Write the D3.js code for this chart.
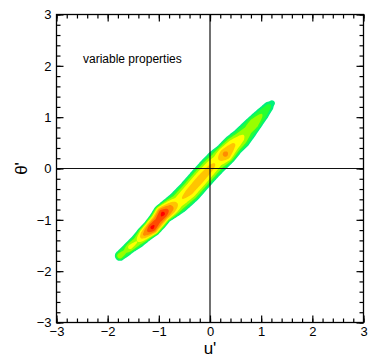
<!DOCTYPE html>
<html>
<head>
<script src="https://d3js.org/d3.v7.min.js"></script>
<style>
  body { margin: 0; background: #fff; }
  text { font-family: 'Liberation Sans', Arial, sans-serif; fill: #000; }
</style>
</head>
<body>
<script>
// ridge of the joint pdf (u', theta', outer half width, peak level)
var ridgeU     = [-1.76, -1.66, -1.56, -1.42, -1.28, -1.13, -1.02, -0.92, -0.78, -0.62, -0.40, -0.18, 0.02, 0.15, 0.30, 0.45, 0.60, 0.74, 0.86, 1.02, 1.14, 1.21];
var ridgeT     = [-1.70, -1.62, -1.53, -1.42, -1.28, -1.15, -1.02, -0.88, -0.78, -0.66, -0.45, -0.20, 0.02, 0.15, 0.28, 0.45, 0.58, 0.74, 0.88, 1.06, 1.20, 1.27];
var ridgeWidth = [0.10, 0.11, 0.12, 0.14, 0.16, 0.18, 0.19, 0.20, 0.21, 0.22, 0.23, 0.23, 0.23, 0.23, 0.22, 0.21, 0.20, 0.18, 0.16, 0.13, 0.10, 0.06];
var ridgePeak  = [3.8, 3.2, 4.4, 4.0, 6.2, 8.3, 7.5, 8.3, 6.6, 4.8, 5.4, 5.5, 5.3, 4.8, 6.3, 5.2, 4.4, 3.5, 4.0, 3.0, 2.4, 1.8];

var levels = [1, 2, 3, 4, 5, 6, 7, 8];
var levelColors = ['#00f07c', '#28ff30', '#98ff00', '#ffff00', '#ffc400', '#ff8c00', '#ff4a00', '#ff0000'];

var tickValues = [-3, -2, -1, 0, 1, 2, 3];
var minorTicks = d3.range(-30, 31, 2).map(function(d) { return d / 10; });

var W = 371, H = 358;
var x = d3.scaleLinear().domain([-3, 3]).range([56.5, 363.5]);
var y = d3.scaleLinear().domain([-3, 3]).range([322.5, 14.5]);

var svg = d3.select('body').append('svg')
    .attr('width', W)
    .attr('height', H);

// density grid built from the ridge
var n = 300, step = 6 / n;
var values = new Array(n * n);
for (var j = 0; j < n; j++) {
    var tv = -3 + (j + 0.5) * step;
    for (var i = 0; i < n; i++) {
        var uv = -3 + (i + 0.5) * step;
        var best = -10;
        for (var k = 0; k < ridgeU.length - 1; k++) {
            var ax = ridgeU[k], ay = ridgeT[k];
            var bx = ridgeU[k + 1], by = ridgeT[k + 1];
            var dx = bx - ax, dy = by - ay;
            var t = ((uv - ax) * dx + (tv - ay) * dy) / (dx * dx + dy * dy);
            t = Math.max(0, Math.min(1, t));
            var px = ax + t * dx - uv, py = ay + t * dy - tv;
            var d = Math.sqrt(px * px + py * py);
            var w = ridgeWidth[k] + t * (ridgeWidth[k + 1] - ridgeWidth[k]);
            var pk = ridgePeak[k] + t * (ridgePeak[k + 1] - ridgePeak[k]);
            var f = pk - (pk - 1) * (d / w) * (d / w);
            if (f > best) best = f;
        }
        values[j * n + i] = best;
    }
}

var contours = d3.contours().size([n, n]).thresholds(levels)(values);

var path = d3.geoPath(d3.geoTransform({
    point: function(gx, gy) {
        this.stream.point(x(-3 + gx * step), y(-3 + gy * step));
    }
}));

svg.append('g')
    .selectAll('path')
    .data(contours)
    .join('path')
    .attr('d', path)
    .attr('fill', function(d, i) { return levelColors[i]; })
    .attr('stroke', 'none');

// zero lines
svg.append('line')
    .attr('x1', x(0)).attr('x2', x(0))
    .attr('y1', y(3)).attr('y2', y(-3))
    .attr('stroke', '#111').attr('stroke-width', 1.2);
svg.append('line')
    .attr('x1', x(-3)).attr('x2', x(3))
    .attr('y1', y(0)).attr('y2', y(0))
    .attr('stroke', '#111').attr('stroke-width', 1.2);

// axes, ticks inward on all sides
function styleAxis(g) {
    g.select('.domain').remove();
    g.selectAll('line').attr('stroke', '#000').attr('stroke-width', 1.2);
    g.attr('font-family', null).attr('font-size', 13);
}

svg.append('g').attr('transform', 'translate(0,' + y(-3) + ')')
    .call(d3.axisBottom(x).tickValues(minorTicks).tickSize(-4).tickFormat(''))
    .call(styleAxis);
svg.append('g').attr('transform', 'translate(0,' + y(-3) + ')')
    .call(d3.axisBottom(x).tickValues(tickValues).tickSize(-7).tickPadding(4).tickFormat(d3.format('d')))
    .call(styleAxis);
svg.append('g').attr('transform', 'translate(0,' + y(3) + ')')
    .call(d3.axisTop(x).tickValues(minorTicks).tickSize(-4).tickFormat(''))
    .call(styleAxis);
svg.append('g').attr('transform', 'translate(0,' + y(3) + ')')
    .call(d3.axisTop(x).tickValues(tickValues).tickSize(-7).tickFormat(''))
    .call(styleAxis);
svg.append('g').attr('transform', 'translate(' + x(-3) + ',0)')
    .call(d3.axisLeft(y).tickValues(minorTicks).tickSize(-4).tickFormat(''))
    .call(styleAxis);
svg.append('g').attr('transform', 'translate(' + x(-3) + ',0)')
    .call(d3.axisLeft(y).tickValues(tickValues).tickSize(-7).tickPadding(5).tickFormat(d3.format('d')))
    .call(styleAxis);
svg.append('g').attr('transform', 'translate(' + x(3) + ',0)')
    .call(d3.axisRight(y).tickValues(minorTicks).tickSize(-4).tickFormat(''))
    .call(styleAxis);
svg.append('g').attr('transform', 'translate(' + x(3) + ',0)')
    .call(d3.axisRight(y).tickValues(tickValues).tickSize(-7).tickFormat(''))
    .call(styleAxis);

// frame
svg.append('rect')
    .attr('x', x(-3)).attr('y', y(3))
    .attr('width', x(3) - x(-3)).attr('height', y(-3) - y(3))
    .attr('fill', 'none').attr('stroke', '#000').attr('stroke-width', 1.3);

// labels
svg.append('text')
    .attr('x', x(0)).attr('y', 354)
    .attr('text-anchor', 'middle')
    .attr('font-size', 17)
    .text("u'");
svg.append('text')
    .attr('transform', 'translate(27,' + y(0) + ') rotate(-90)')
    .attr('text-anchor', 'middle')
    .attr('font-size', 17)
    .text("θ'");
svg.append('text')
    .attr('x', 83).attr('y', 63)
    .attr('font-size', 12)
    .text('variable properties');
</script>
</body>
</html>
